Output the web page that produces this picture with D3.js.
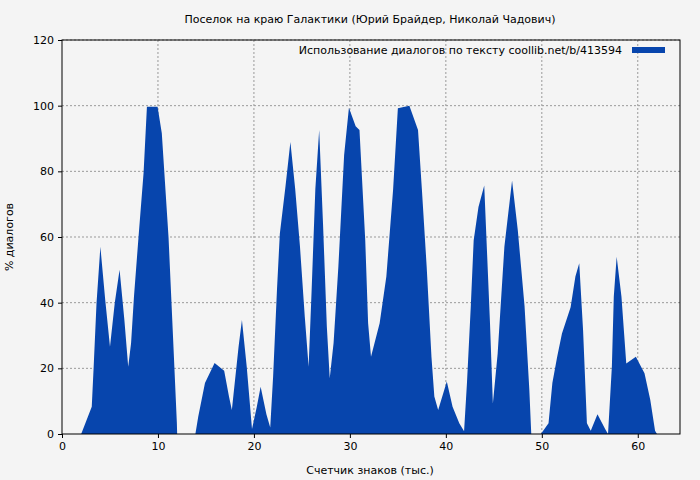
<!DOCTYPE html><html><head><meta charset="utf-8"><script src="https://cdn.jsdelivr.net/npm/d3@7"></script>
<style>body{margin:0;background:#f4f4f4}svg{display:block;font-family:"DejaVu Sans",sans-serif}</style></head><body><svg width="700" height="480"></svg>
<script>
const xs=[2.0,3.1,3.3,3.6,4.0,4.5,5.0,5.5,6.0,6.5,6.9,7.2,7.5,8.0,8.5,8.85,9.96,10.4,11.1,11.6,11.97,12.0,13.9,14.2,14.9,15.9,16.9,17.4,17.7,18.4,18.75,19.25,19.8,20.3,20.7,21.3,21.7,22.0,22.4,22.7,23.3,23.8,24.3,24.8,25.3,25.7,26.0,26.4,26.8,27.2,27.6,27.9,28.3,28.8,29.4,29.9,30.6,31.0,31.6,31.9,32.2,33.1,33.8,34.5,35.0,36.2,37.1,37.5,38.0,38.5,38.8,39.2,40.1,40.7,41.4,41.9,42.2,42.6,42.9,43.4,44.0,44.6,44.9,45.4,46.1,46.9,47.5,48.2,48.7,48.9,49.9,50.7,51.1,51.6,52.1,53.0,53.5,53.9,54.3,54.7,55.1,55.8,56.6,56.9,57.3,57.5,57.8,58.3,58.8,59.8,60.7,61.3,61.8,62.0];
const ys=[0,8.3,20.5,40,57,41,26.6,40,50,34.7,20.5,27.7,41.8,61,79.5,99.7,99.7,91.6,60,27.6,3.3,0,0,5.3,15.5,21.6,19.3,11.4,7.3,26.6,34.7,20.5,1.5,8.3,14.4,6,2,17.5,43.8,61,75.7,88.9,74.6,57,35.7,20.5,42.8,74.6,92.6,64,32.6,17,27.7,51,85,99.4,93.7,92.6,59,33.7,23.5,33.7,48,74.3,99.2,100,92.6,74.6,51,23.5,11.4,7.3,16,8.3,3.3,0.8,15.5,39,59,69.1,75.7,33.7,9.3,24.5,57,77.2,62,39,13.4,0,0,3.3,15.5,23.5,30.6,38.6,48,52,31.6,3.3,1,6,1.5,0,20.5,41.8,54,41.8,21.5,23.5,18.5,10.4,1,0];
const xTicks=[0,10,20,30,40,50,60], yTicks=[0,20,40,60,80,100,120];
const title="Поселок на краю Галактики (Юрий Брайдер, Николай Чадович)";
const legend="Использование диалогов по тексту  coollib.net/b/413594";
const svg=d3.select("svg"), L=62,R=680,T=40,B=434, col="#0745ad";
const x=d3.scaleLinear().domain([0,64.4]).range([L,R]);
const y=d3.scaleLinear().domain([0,120]).range([B,T]);
const g=svg.append("g");
g.selectAll(".gx").data(xTicks.slice(1)).join("line").attr("x1",d=>x(d)).attr("x2",d=>x(d)).attr("y1",T).attr("y2",B).attr("stroke","#999").attr("stroke-dasharray","2,2");
g.selectAll(".gy").data(yTicks.slice(1)).join("line").attr("y1",d=>y(d)).attr("y2",d=>y(d)).attr("x1",L).attr("x2",R).attr("stroke","#999").attr("stroke-dasharray","2,2");
svg.append("path").datum(xs.map((v,i)=>[v,ys[i]])).attr("fill",col).attr("d",d3.area().x(d=>x(d[0])).y0(B).y1(d=>y(d[1])));
svg.append("rect").attr("x",L).attr("y",T).attr("width",R-L).attr("height",B-T).attr("fill","none").attr("stroke","#000");
const xa=svg.append("g").attr("transform",`translate(0,${B})`).call(d3.axisBottom(x).tickValues(xTicks).tickSize(4).tickPadding(4));
const ya=svg.append("g").attr("transform",`translate(${L},0)`).call(d3.axisLeft(y).tickValues(yTicks).tickSize(4).tickPadding(4));
[xa,ya].forEach(a=>{a.select(".domain").remove();a.selectAll("text").attr("font-size",11).attr("fill","#000").attr("font-family","DejaVu Sans");});
svg.append("text").attr("x",370).attr("y",23).attr("text-anchor","middle").attr("font-size",11).text(title);
svg.append("text").attr("x",370).attr("y",474).attr("text-anchor","middle").attr("font-size",11).text("Счетчик знаков (тыс.)");
svg.append("text").attr("transform","translate(13,237) rotate(-90)").attr("text-anchor","middle").attr("font-size",11).text("% диалогов");
svg.append("text").attr("x",622).attr("y",54).attr("text-anchor","end").attr("font-size",11).text(legend);
svg.append("rect").attr("x",632).attr("y",47).attr("width",33).attr("height",6).attr("fill",col);
</script></body></html>
